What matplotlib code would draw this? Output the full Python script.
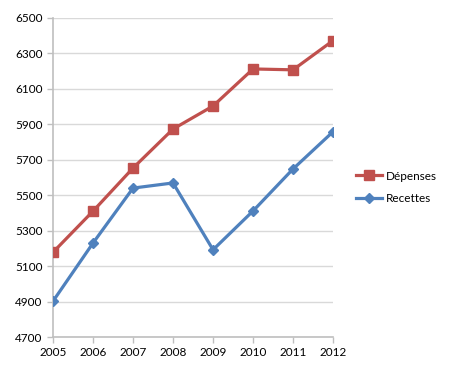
import matplotlib
matplotlib.use("Agg")
import matplotlib.pyplot as plt

# values
annees = [2005, 2006, 2007, 2008, 2009, 2010, 2011, 2012]
depenses = [5178, 5410, 5653, 5873, 6003, 6212, 6207, 6372]
recettes = [4902, 5230, 5540, 5569, 5192, 5411, 5648, 5858]
y_ticks = list(range(4700, 6501, 200))

plt.rcParams['font.family'] = ['Lato', 'DejaVu Sans']

fig = plt.figure(figsize=(4.55, 3.75), dpi=100)
ax = fig.add_axes([0.1165, 0.1013, 0.6155, 0.851])

ax.plot(annees, depenses, color='#C0504D', lw=2.3, marker='s', ms=7,
        label='Dépenses', zorder=3)
ax.plot(annees, recettes, color='#4F81BD', lw=2.3, marker='D', ms=5.5,
        label='Recettes', zorder=3)

ax.set_xlim(2005, 2012)
ax.set_ylim(4700, 6500)
ax.set_yticks(y_ticks)
ax.set_xticks(annees)
ax.tick_params(labelsize=8.5, colors='#000000', length=4, width=1,
               color='#BFBFBF')
ax.grid(axis='y', color='#D9D9D9', lw=1)
for s in ['top', 'right']:
    ax.spines[s].set_visible(False)
for s in ['left', 'bottom']:
    ax.spines[s].set_color('#BFBFBF')
    ax.spines[s].set_linewidth(1.2)
ax.set_axisbelow(True)
ax.margins(x=0)
for lbl in ax.get_xticklabels() + ax.get_yticklabels():
    lbl.set_clip_on(False)

fig.legend(loc='center left', bbox_to_anchor=(0.76, 0.5), frameon=False,
           fontsize=8.5, handlelength=2.2, labelspacing=1.0,
           handletextpad=0.3)

fig.savefig('out.png', dpi=100)
